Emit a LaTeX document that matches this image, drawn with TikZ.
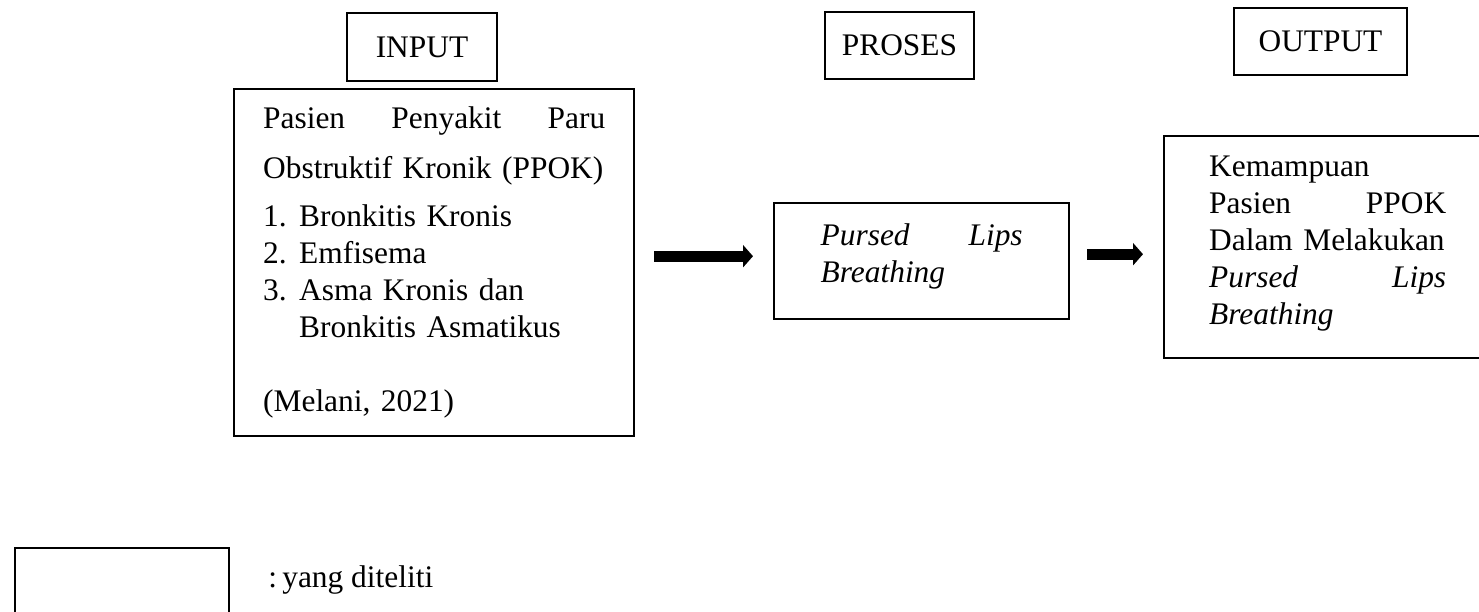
\documentclass[tikz,border=0pt]{standalone}
\usepackage{fontspec}
\setmainfont{Liberation Serif}
\usetikzlibrary{arrows.meta}
\tikzset{
  frame/.style={draw, line width=1.2pt, inner ysep=0pt},
  headbox/.style={frame, inner xsep=0pt, font=\fontsize{15.7pt}{18.5pt}\selectfont},
  content/.style={frame, anchor=north west, align=left, font=\fontsize{15.7pt}{18.5pt}\selectfont},
  fat arrow/.style={line width=5.5pt, -{Triangle[length=5pt,width=11pt]}}
}
\begin{document}
\begin{tikzpicture}[x=0.5pt,y=-0.5pt]
\useasboundingbox (0,0) rectangle (1479,611);
% headings
\node[headbox, minimum width=75pt, minimum height=34pt] (inhead) at (422,47) {INPUT};
\node[headbox, minimum width=74.5pt, minimum height=33.5pt] (prohead) at (899.5,45.5) {PROSES};
\node[headbox, minimum width=86.5pt, minimum height=33.5pt] (outhead) at (1320.5,41.5) {OUTPUT};
% main boxes
\node[content, text width=171pt, inner xsep=14.5pt, text height=19.5pt, text depth=154pt] (inbox) at (233,88) {%
  Pasien\hfill Penyakit\hfill Paru\\[6.5pt]
  Obstruktif Kronik (PPOK)\\[5.5pt]
  \makebox[18pt][l]{1.}Bronkitis Kronis\\
  \makebox[18pt][l]{2.}Emfisema\\
  \makebox[18pt][l]{3.}Asma Kronis dan\\
  \hspace*{18pt}Bronkitis Asmatikus\\[18.5pt]
  (Melani, 2021)};
\node[content, text width=101pt, inner xsep=22.5pt, minimum width=147.5pt, text height=21pt, text depth=37pt] (probox) at (773,202) {%
  \textit{Pursed}\hfill\textit{Lips}\\
  \textit{Breathing}};
\node[content, text width=118.5pt, inner xsep=22.5pt, text height=20pt, text depth=91pt] (outbox) at (1163,135) {%
  Kemampuan\\
  Pasien\hfill PPOK\\
  Dalam Melakukan\\
  \textit{Pursed}\hfill\textit{Lips}\\
  \textit{Breathing}};
% arrows
\draw[fat arrow, shorten <=9.5pt, shorten >=10pt] ([yshift=3.25pt]inbox.east) -- ([yshift=2.5pt]probox.west);
\draw[fat arrow, shorten <=8.5pt, shorten >=10pt] ([yshift=3.5pt]probox.east) -- ([yshift=-3.5pt]outbox.west);
% legend
\node[frame, anchor=north west, minimum width=107pt, minimum height=60pt] (legbox) at (14,547) {};
\node[anchor=base west, inner sep=0pt, font=\fontsize{15.7pt}{18.5pt}\selectfont] (legtext) at (268,587) {:\,yang diteliti};
\end{tikzpicture}
\end{document}
